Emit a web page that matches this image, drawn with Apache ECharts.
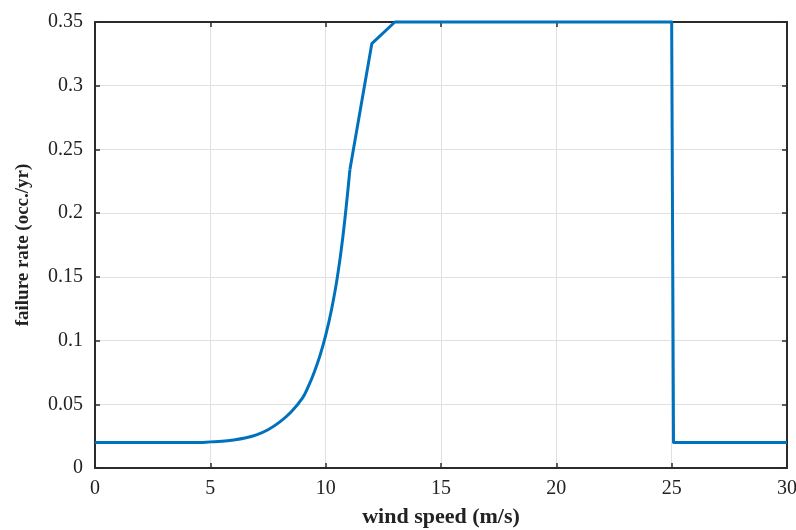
<!DOCTYPE html>
<html>
<head>
<meta charset="utf-8">
<script src="https://cdn.jsdelivr.net/npm/echarts@6/dist/echarts.min.js"></script>
<style>
  html, body { margin: 0; padding: 0; background: #fff; }
  #chart { width: 796px; height: 530px; }
</style>
</head>
<body>
<div id="chart"></div>
<script>
/* ====== data ====== */
// rising part (smooth curve)
const windSpeedRise   = [0, 4.5, 5, 5.5, 6, 6.5, 7, 7.5, 8, 8.5, 9, 9.25, 9.5, 9.75, 10, 10.25, 10.5, 10.75, 11.05];
const failureRateRise = [0.02, 0.02, 0.0205, 0.021, 0.022, 0.0235, 0.026, 0.03, 0.036, 0.044, 0.055, 0.064, 0.075, 0.088, 0.104, 0.124, 0.149, 0.182, 0.234];
// straight segments: knee, plateau, cut-out
const windSpeedTop   = [11.05, 12, 13, 25, 25.08, 30];
const failureRateTop = [0.234, 0.333, 0.35, 0.35, 0.02, 0.02];

const toPoints = (xs, ys) => xs.map((x, i) => [x, ys[i]]);

const chart = echarts.init(document.getElementById('chart'));

const axisColor = '#2b2b2b';
const fontFam = '"Liberation Serif", "DejaVu Serif", serif';

// box axes (top / right) like matlab "box on"
const boxTick = { show: true, inside: true, length: 5, lineStyle: { color: axisColor, width: 1.5 } };
const boxLine = { show: true, onZero: false, lineStyle: { color: axisColor, width: 2 } };
const blue = '#0072BD';

chart.setOption({
  backgroundColor: '#fff',
  animation: false,
  grid: { left: 95, right: 9, top: 22, bottom: 62, outerBoundsMode: 'none', containLabel: false },
  xAxis: [{
    type: 'value',
    min: 0, max: 30, interval: 5,
    name: 'wind speed (m/s)',
    nameLocation: 'middle',
    nameGap: 38,
    nameTextStyle: { fontFamily: fontFam, fontWeight: 'bold', fontSize: 22, color: '#222' },
    axisLine: boxLine,
    axisTick: boxTick,
    axisLabel: { fontFamily: fontFam, fontSize: 20, color: '#222', margin: 11 },
    splitLine: { show: true, lineStyle: { color: '#e0e0e0', width: 1 } }
  }, {
    type: 'value', position: 'top',
    min: 0, max: 30, interval: 5,
    axisLine: boxLine,
    axisTick: boxTick,
    axisLabel: { show: false },
    splitLine: { show: false }
  }],
  yAxis: [{
    type: 'value',
    min: 0, max: 0.35, interval: 0.05,
    name: 'failure rate (occ./yr)',
    nameLocation: 'middle',
    nameGap: 62,
    nameTextStyle: { fontFamily: fontFam, fontWeight: 'bold', fontSize: 19, color: '#222' },
    axisLine: boxLine,
    axisTick: boxTick,
    axisLabel: {
      fontFamily: fontFam, fontSize: 20, color: '#222', margin: 12,
      formatter: v => String(+v.toFixed(2))
    },
    splitLine: { show: true, lineStyle: { color: '#e0e0e0', width: 1 } }
  }, {
    type: 'value', position: 'right',
    min: 0, max: 0.35, interval: 0.05,
    axisLine: boxLine,
    axisTick: boxTick,
    axisLabel: { show: false },
    splitLine: { show: false }
  }],
  series: [{
    type: 'line',
    data: toPoints(windSpeedRise, failureRateRise),
    smooth: 0.4,
    symbol: 'none',
    clip: false,
    lineStyle: { color: blue, width: 3 }
  }, {
    type: 'line',
    data: toPoints(windSpeedTop, failureRateTop),
    symbol: 'none',
    clip: false,
    lineStyle: { color: blue, width: 3, join: 'round' }
  }]
});
</script>
</body>
</html>
